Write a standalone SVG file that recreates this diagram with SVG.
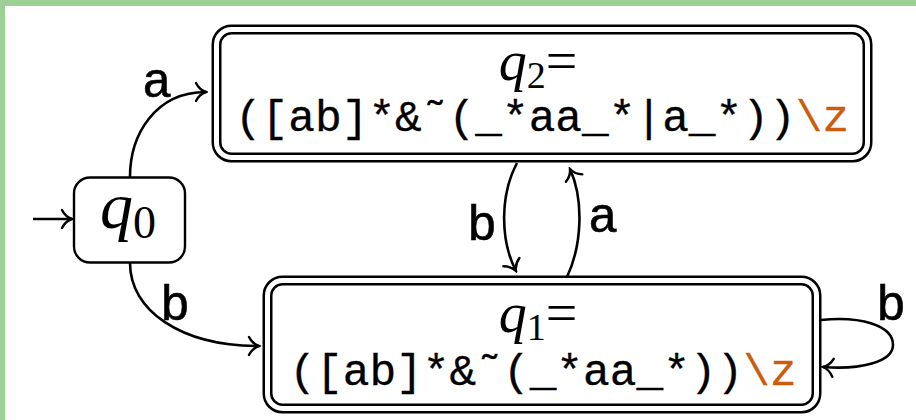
<svg xmlns="http://www.w3.org/2000/svg" width="916" height="420" viewBox="0 0 916 420">
  <defs>
    <marker id="to" viewBox="-14 -12 16 24" markerWidth="16" markerHeight="24" refX="0" refY="0" orient="auto" markerUnits="userSpaceOnUse">
      <path d="M-10,-9 C-7,-3 -3,-1 0,0 C-3,1 -7,3 -10,9" fill="none" stroke="#000" stroke-width="2.4" stroke-linecap="round"/>
    </marker>
    <style>
      .edge{fill:none;stroke:#000;stroke-width:2.6;marker-end:url(#to)}
      .dbl-out{fill:#fff;stroke:#000;stroke-width:10}
      .dbl-in{fill:none;stroke:#fff;stroke-width:5}
      .math{font-family:"Liberation Serif","DejaVu Serif",serif;fill:#000}
      .mono{font-family:"Liberation Mono","DejaVu Sans Mono",monospace;font-size:44.5px;fill:#000;stroke:#000;stroke-width:0.3}
      .lbl{font-family:"Liberation Mono","DejaVu Sans Mono",monospace;font-size:50px;fill:#000;stroke:#000;stroke-width:0.6;text-anchor:middle}
      .orange{fill:#cc5c10;stroke:#cc5c10}
    </style>
  </defs>
  <rect x="0" y="0" width="916" height="420" fill="#fff"/>
  <rect x="0" y="0" width="916" height="6" fill="#9ecf96"/>
  <rect x="0" y="0" width="5" height="420" fill="#9ecf96"/>

  <g id="q0">
    <rect x="74" y="177.5" width="111" height="85" rx="16" fill="#fff" stroke="#000" stroke-width="2.4"/>
    <text class="math" x="128" y="228" text-anchor="middle"><tspan font-size="66" font-style="italic">q</tspan><tspan font-size="46" dy="10">0</tspan></text>
  </g>

  <g id="q2">
    <rect class="dbl-out" x="216.5" y="29.5" width="651" height="128" rx="15"/>
    <rect class="dbl-in" x="216.5" y="29.5" width="651" height="128" rx="15"/>
    <text class="math" x="538" y="80" text-anchor="middle"><tspan font-size="56" font-style="italic">q</tspan><tspan font-size="38" dy="8">2</tspan><tspan font-size="56" dy="-8">=</tspan></text>
    <text class="mono" x="542" y="131" text-anchor="middle">([ab]*&amp;˜(_*aa_*|a_*))<tspan class="orange">\z</tspan></text>
  </g>

  <g id="q1">
    <rect class="dbl-out" x="267.5" y="280.5" width="549" height="128" rx="15"/>
    <rect class="dbl-in" x="267.5" y="280.5" width="549" height="128" rx="15"/>
    <text class="math" x="538" y="332" text-anchor="middle"><tspan font-size="56" font-style="italic">q</tspan><tspan font-size="38" dy="8">1</tspan><tspan font-size="56" dy="-8">=</tspan></text>
    <text class="mono" x="543" y="385" text-anchor="middle">([ab]*&amp;˜(_*aa_*))<tspan class="orange">\z</tspan></text>
  </g>

  <g id="edges">
    <path class="edge" d="M33,219 L72,219"/>
    <path class="edge" d="M130,177 C130,135 155,92 206,92"/>
    <text class="lbl" x="157" y="97">a</text>
    <path class="edge" d="M130,263 C130,310 180,346 259,346"/>
    <text class="lbl" x="175" y="320">b</text>
    <path class="edge" d="M517,163 C500,195 500,240 516,271"/>
    <text class="lbl" x="482" y="240">b</text>
    <path class="edge" d="M567,277 C582,245 584,200 570,169"/>
    <text class="lbl" x="603" y="232">a</text>
    <path class="edge" d="M821,320 C860,316 893,325 893,345 C893,362 860,370 823,367"/>
    <text class="lbl" x="891" y="320">b</text>
  </g>
</svg>
